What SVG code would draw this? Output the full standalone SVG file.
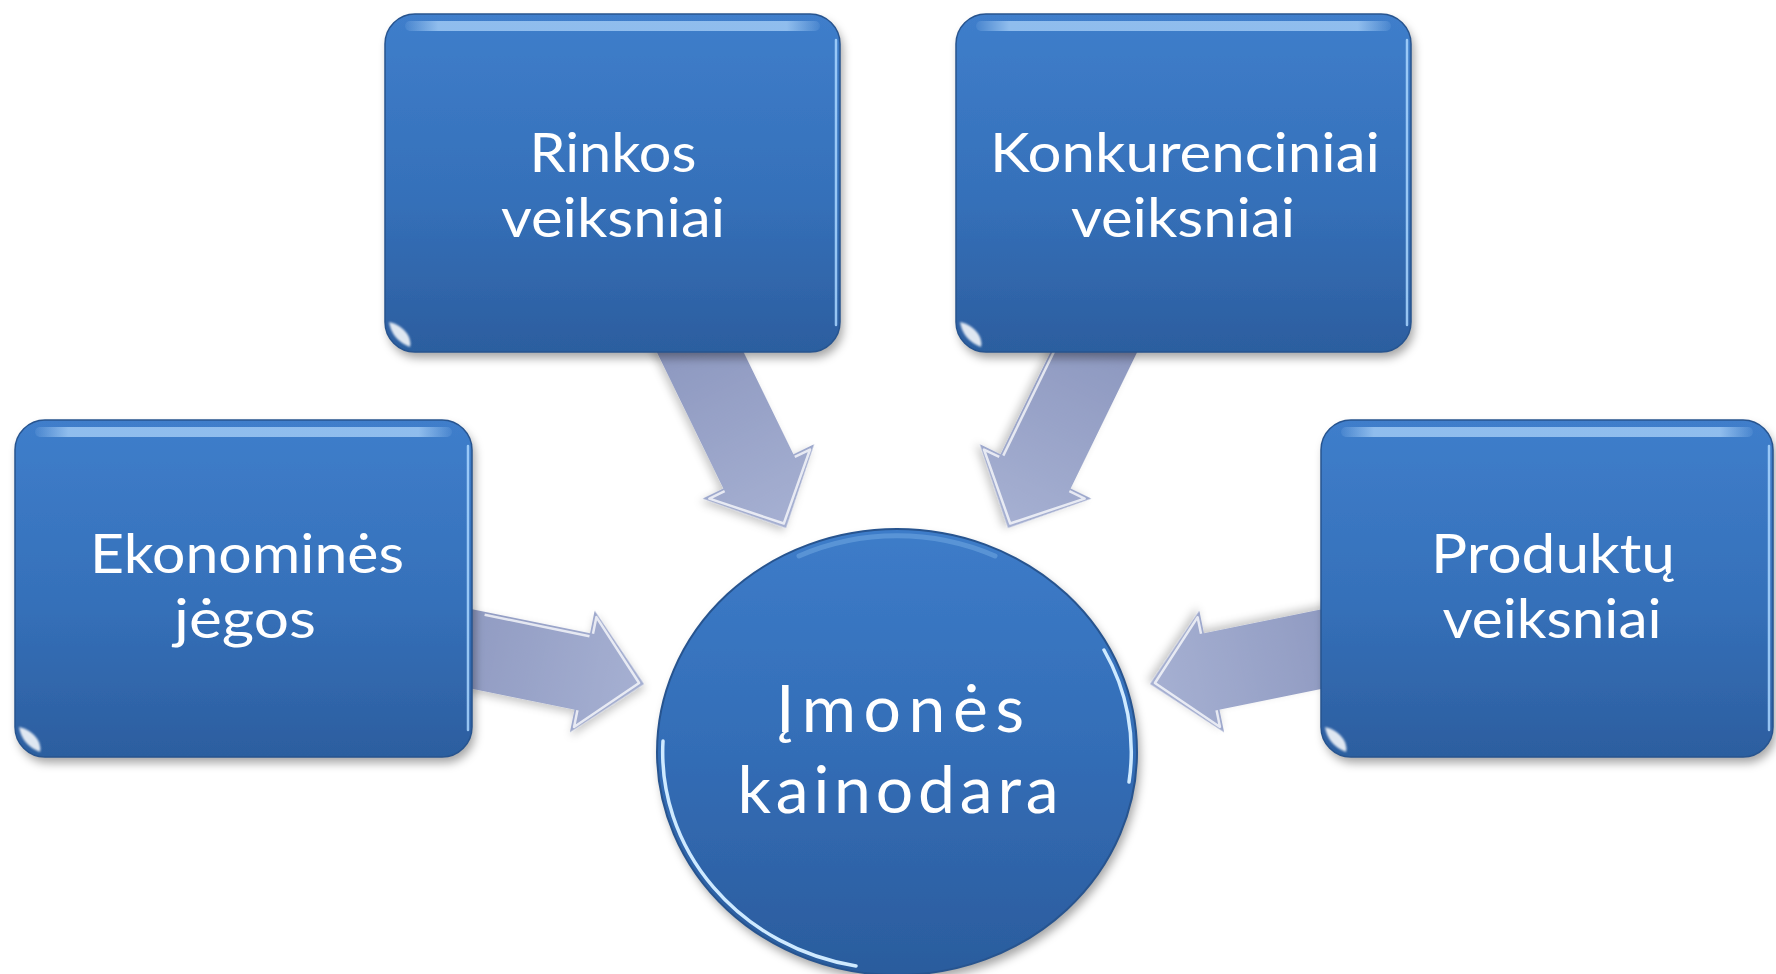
<svg xmlns="http://www.w3.org/2000/svg" width="1776" height="974" viewBox="0 0 1776 974">
  <defs>
    <style>
      .box { fill: url(#boxFill); filter: url(#shadow); }
      .edge { fill: none; stroke: #27548f; stroke-width: 1.5; }
      .gloss { fill: url(#topGloss); }
      .rside { fill: none; stroke: #a9d6ff; stroke-width: 2.5; stroke-linecap: round; opacity: 0.85; }
      .corner { fill: #ffffff; opacity: 0.85; }
      .lbl { font-family: Lato, "Open Sans", "DejaVu Sans", sans-serif; font-size: 54px; fill: #ffffff; text-anchor: middle; }
      .big { font-size: 66px; }
      .arrow { fill: url(#arrowFill); filter: url(#arrowShadow); }
      .arrow-hi { fill: none; stroke: #ffffff; stroke-width: 2.5; stroke-linejoin: round; opacity: 0.75; }
      .rim { fill: none; stroke: #cfeaff; stroke-width: 3.5; stroke-linecap: round; }
    </style>
    <linearGradient id="boxFill" x1="0" y1="0" x2="0" y2="1">
      <stop offset="0" stop-color="#3f7ecb"/>
      <stop offset="0.55" stop-color="#3570b9"/>
      <stop offset="1" stop-color="#2c5e9f"/>
    </linearGradient>
    <linearGradient id="topGloss" x1="0" y1="0" x2="1" y2="0">
      <stop offset="0" stop-color="#a4cdf6" stop-opacity="0.1"/>
      <stop offset="0.08" stop-color="#a4cdf6" stop-opacity="0.8"/>
      <stop offset="0.92" stop-color="#a4cdf6" stop-opacity="0.8"/>
      <stop offset="1" stop-color="#a4cdf6" stop-opacity="0.1"/>
    </linearGradient>
    <linearGradient id="circFill" x1="0" y1="0" x2="0" y2="1">
      <stop offset="0" stop-color="#3d7cc9"/>
      <stop offset="0.5" stop-color="#336db6"/>
      <stop offset="1" stop-color="#2b5c9d"/>
    </linearGradient>
    <linearGradient id="arrowFill" gradientUnits="userSpaceOnUse" x1="-230" y1="0" x2="0" y2="0">
      <stop offset="0" stop-color="#8b96be"/>
      <stop offset="1" stop-color="#a6b0d2"/>
    </linearGradient>
    <filter id="shadow" x="-10%" y="-10%" width="125%" height="130%">
      <feDropShadow dx="3" dy="6" stdDeviation="5" flood-color="#000000" flood-opacity="0.35"/>
    </filter>
    <filter id="arrowShadow" x="-20%" y="-20%" width="140%" height="140%">
      <feDropShadow dx="2" dy="4" stdDeviation="4" flood-color="#000000" flood-opacity="0.22"/>
    </filter>
    <filter id="soft" x="-50%" y="-50%" width="200%" height="200%">
      <feGaussianBlur stdDeviation="1.2"/>
    </filter>
    <path id="arrowShape" d="M0 0 L-63 62 L-63 39 L-290 39 L-290 -39 L-63 -39 L-63 -62 Z"/>
    <path id="arrowEdge" d="M-60 39 L-60 56 L-5 0 L-60 -56 L-60 -39"/>
  </defs>

  <rect width="1776" height="974" fill="#ffffff"/>

  <!-- connectors: block arrows pointing at the centre -->
  <g id="connectors">
    <g transform="translate(786 528) rotate(64)">
      <use href="#arrowShape" class="arrow"/>
      <use href="#arrowEdge" class="arrow-hi"/>
    </g>
    <g transform="translate(1008 528) rotate(116)">
      <use href="#arrowShape" class="arrow"/>
      <use href="#arrowEdge" class="arrow-hi"/>
      <path d="M-63 36 L-200 36" class="arrow-hi"/>
    </g>
    <g transform="translate(644 684) rotate(11.5)">
      <use href="#arrowShape" class="arrow"/>
      <use href="#arrowEdge" class="arrow-hi"/>
      <path d="M-63 -36 L-170 -36" class="arrow-hi"/>
    </g>
    <g transform="translate(1150 684) rotate(168.5)">
      <use href="#arrowShape" class="arrow"/>
      <use href="#arrowEdge" class="arrow-hi"/>
    </g>
  </g>

  <!-- Rinkos veiksniai -->
  <g id="rinkos">
    <rect x="385" y="14" width="455" height="338" rx="30" class="box"/>
    <rect x="385" y="14" width="455" height="338" rx="30" class="edge"/>
    <rect x="405" y="21" width="415" height="10" rx="5" class="gloss"/>
    <path d="M836 40 L836 325" class="rside"/>
    <path d="M389 322 Q392 340 410 347 Q412 338 404 330 Q398 324 389 322 Z" class="corner" filter="url(#soft)"/>
    <text x="613" y="172" class="lbl" textLength="167" lengthAdjust="spacingAndGlyphs">Rinkos</text>
    <text x="613" y="237" class="lbl" textLength="224" lengthAdjust="spacingAndGlyphs">veiksniai</text>
  </g>

  <!-- Konkurenciniai veiksniai -->
  <g id="konkurenciniai">
    <rect x="956" y="14" width="455" height="338" rx="30" class="box"/>
    <rect x="956" y="14" width="455" height="338" rx="30" class="edge"/>
    <rect x="976" y="21" width="415" height="10" rx="5" class="gloss"/>
    <path d="M1407 40 L1407 325" class="rside"/>
    <path d="M960 322 Q963 340 981 347 Q983 338 975 330 Q969 324 960 322 Z" class="corner" filter="url(#soft)"/>
    <text x="1185" y="172" class="lbl" textLength="390" lengthAdjust="spacingAndGlyphs">Konkurenciniai</text>
    <text x="1183" y="237" class="lbl" textLength="224" lengthAdjust="spacingAndGlyphs">veiksniai</text>
  </g>

  <!-- Ekonominės jėgos -->
  <g id="ekonomines">
    <rect x="15" y="420" width="457" height="337" rx="30" class="box"/>
    <rect x="15" y="420" width="457" height="337" rx="30" class="edge"/>
    <rect x="35" y="427" width="417" height="10" rx="5" class="gloss"/>
    <path d="M468 446 L468 730" class="rside"/>
    <path d="M19 727 Q22 745 40 752 Q42 743 34 735 Q28 729 19 727 Z" class="corner" filter="url(#soft)"/>
    <text x="247" y="573" class="lbl" textLength="314" lengthAdjust="spacingAndGlyphs">Ekonominės</text>
    <text x="245" y="638" class="lbl" textLength="142" lengthAdjust="spacingAndGlyphs">jėgos</text>
  </g>

  <!-- Produktų veiksniai -->
  <g id="produktu">
    <rect x="1321" y="420" width="452" height="337" rx="30" class="box"/>
    <rect x="1321" y="420" width="452" height="337" rx="30" class="edge"/>
    <rect x="1341" y="427" width="412" height="10" rx="5" class="gloss"/>
    <path d="M1769 446 L1769 730" class="rside"/>
    <path d="M1325 727 Q1328 745 1346 752 Q1348 743 1340 735 Q1334 729 1325 727 Z" class="corner" filter="url(#soft)"/>
    <text x="1553" y="573" class="lbl" textLength="244" lengthAdjust="spacingAndGlyphs">Produktų</text>
    <text x="1552" y="638" class="lbl" textLength="219" lengthAdjust="spacingAndGlyphs">veiksniai</text>
  </g>

  <!-- Įmonės kainodara (centre) -->
  <g id="kainodara">
    <ellipse cx="897" cy="752" rx="240" ry="223" fill="url(#circFill)" filter="url(#shadow)"/>
    <ellipse cx="897" cy="752" rx="240" ry="223" fill="none" stroke="#27548f" stroke-width="2"/>
    <path d="M799 556 A232 216 0 0 1 995 556" fill="none" stroke="#8fc2f2" stroke-width="5" stroke-linecap="round" opacity="0.35"/>
    <path d="M663 741 A234 217 0 0 0 856 966" class="rim"/>
    <path d="M1104 650 A234 217 0 0 1 1129 782" class="rim"/>
    <text x="900" y="732" class="lbl big" textLength="248" lengthAdjust="spacing">Įmonės</text>
    <text x="898" y="813" class="lbl big" textLength="321" lengthAdjust="spacing">kainodara</text>
  </g>
</svg>
